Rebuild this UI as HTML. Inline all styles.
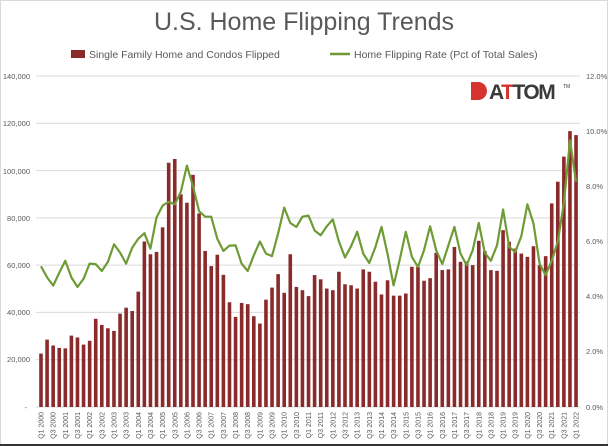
<!DOCTYPE html>
<html><head><meta charset="utf-8"><style>
html,body{margin:0;padding:0;background:#fff}
svg{display:block;font-family:"Liberation Sans",sans-serif}
</style></head><body>
<svg id="s" width="608" height="446" viewBox="0 0 608 446">
<rect x="0" y="0" width="608" height="446" fill="#fff"/>
<rect x="0.5" y="0.5" width="607" height="444" fill="none" stroke="#d9d9d9"/>
<line x1="0" y1="445" x2="608" y2="445" stroke="#333" stroke-width="2"/>
<text x="304" y="30" text-anchor="middle" font-size="25" fill="#595959">U.S. Home Flipping Trends</text>
<rect x="71" y="50" width="14" height="8" fill="#8b2a2a"/>
<text x="89" y="58" font-size="10.5" fill="#595959">Single Family Home and Condos Flipped</text>
<line x1="330" y1="54" x2="350" y2="54" stroke="#6e9b35" stroke-width="2.5"/>
<text x="354" y="58" font-size="10.5" fill="#595959">Home Flipping Rate (Pct of Total Sales)</text>
<g id="grid" stroke="#d9d9d9" stroke-width="1"></g>
<g font-size="7.5" fill="#595959" text-anchor="end">
<text x="30" y="79">140,000</text><text x="30" y="126">120,000</text><text x="30" y="174">100,000</text>
<text x="30" y="221">80,000</text><text x="30" y="268">60,000</text><text x="30" y="315">40,000</text>
<text x="30" y="362">20,000</text><text x="27" y="410">-</text>
</g>
<g font-size="7.5" fill="#595959">
<text x="586" y="79">12.0%</text><text x="586" y="134">10.0%</text><text x="586" y="189">8.0%</text>
<text x="586" y="244">6.0%</text><text x="586" y="299">4.0%</text><text x="586" y="354">2.0%</text>
<text x="586" y="410">0.0%</text>
</g>
<g id="bars" fill="#8b2a2a"></g>
<polyline id="ln" fill="none" stroke="#6e9b35" stroke-width="2.2" stroke-linejoin="round"/>
<g>
<path d="M471 82 h7 a9 9 0 0 1 0 18 h-7 z" fill="#d6332e"/>
<text x="489" y="99" font-size="21" font-weight="bold" fill="#3a3a3a" letter-spacing="-1.5">A<tspan fill="#d6332e">T</tspan>TOM</text>
<text x="563" y="88" font-size="5" fill="#3a3a3a">TM</text>
</g>
<g id="xl" font-size="7" fill="#595959" text-anchor="end">
<text>Q1 2000</text><text>Q3 2000</text><text>Q1 2001</text><text>Q3 2001</text><text>Q1 2002</text><text>Q3 2002</text><text>Q1 2003</text><text>Q3 2003</text><text>Q1 2004</text><text>Q3 2004</text><text>Q1 2005</text><text>Q3 2005</text><text>Q1 2006</text><text>Q3 2006</text><text>Q1 2007</text><text>Q3 2007</text><text>Q1 2008</text><text>Q3 2008</text><text>Q1 2009</text><text>Q3 2009</text><text>Q1 2010</text><text>Q3 2010</text><text>Q1 2011</text><text>Q3 2011</text><text>Q1 2012</text><text>Q3 2012</text><text>Q1 2013</text><text>Q3 2013</text><text>Q1 2014</text><text>Q3 2014</text><text>Q1 2015</text><text>Q3 2015</text><text>Q1 2016</text><text>Q3 2016</text><text>Q1 2017</text><text>Q3 2017</text><text>Q1 2018</text><text>Q3 2018</text><text>Q1 2019</text><text>Q3 2019</text><text>Q1 2020</text><text>Q3 2020</text><text>Q1 2021</text><text>Q3 2021</text><text>Q1 2022</text>
</g>
</svg>
<script>
(function(){
var b=[22.6,28.5,26,25,24.8,30.2,29.4,26.4,28,37.3,34.7,33.3,32.2,39.5,42,40.6,48.8,70,64.6,65.6,76,103.3,104.9,90,86.4,98.2,81.9,66,59.6,64.4,55.9,44.3,38.1,44,43.5,38.4,35.3,45.4,50.5,56.2,48.3,64.6,50.8,49.4,46.9,55.8,54,50.1,49.4,57.2,51.9,51.5,50.1,58.2,57.2,53,47.6,53.6,47.1,47.1,48,59.3,59.3,53.4,54.5,65.2,57.9,58.2,67.7,61.4,61.5,60,70.3,65.9,57.9,57.6,74.8,69.9,67,64.9,63.5,68,60,63.8,86.1,95.3,105.9,116.7,115];
var r=[5.1,4.7,4.4,4.86,5.3,4.7,4.35,4.65,5.2,5.18,4.93,5.26,5.9,5.6,5.2,5.78,6.1,6.3,5.74,6.87,7.3,7.44,7.35,7.8,8.75,8.0,7.1,6.9,6.9,6.1,5.66,5.85,5.86,5.2,4.93,5.5,6.0,5.56,5.47,6.29,7.23,6.67,6.53,6.9,6.94,6.4,6.23,6.55,6.8,6.0,5.42,5.83,6.35,5.56,5.22,5.8,6.53,5.54,4.41,5.34,6.35,5.44,5.08,5.68,6.55,5.68,5.18,5.86,6.53,5.56,5.14,5.68,6.67,5.59,5.3,5.86,7.16,5.8,5.62,6.19,7.35,6.65,5.2,4.78,5.3,6.0,7.4,9.67,8.16];
var NS="http://www.w3.org/2000/svg",y0=407,yt=76;
var g=document.getElementById('grid');
for(var k=0;k<=7;k++){var l=document.createElementNS(NS,'line');var y=y0-k*(y0-yt)/7;l.setAttribute('x1',36);l.setAttribute('x2',580);l.setAttribute('y1',y);l.setAttribute('y2',y);g.appendChild(l);}
var bg=document.getElementById('bars'),pts=[];
for(var i=0;i<b.length;i++){var x=41+i*6.08;var h=b[i]*(y0-yt)/140;var rc=document.createElementNS(NS,'rect');rc.setAttribute('x',x-1.8);rc.setAttribute('y',y0-h);rc.setAttribute('width',3.6);rc.setAttribute('height',h);bg.appendChild(rc);
pts.push(x.toFixed(1)+','+(y0-r[i]*(y0-yt)/12).toFixed(1));}
document.getElementById('ln').setAttribute('points',pts.join(' '));
var t=document.getElementById('xl').children;
for(var j=0;j<t.length;j++){var x=41+2*j*6.08+2.5;t[j].setAttribute('x',x);t[j].setAttribute('y',412);t[j].setAttribute('transform','rotate(-90 '+x+' 412)');}
})();
</script>
</body></html>
